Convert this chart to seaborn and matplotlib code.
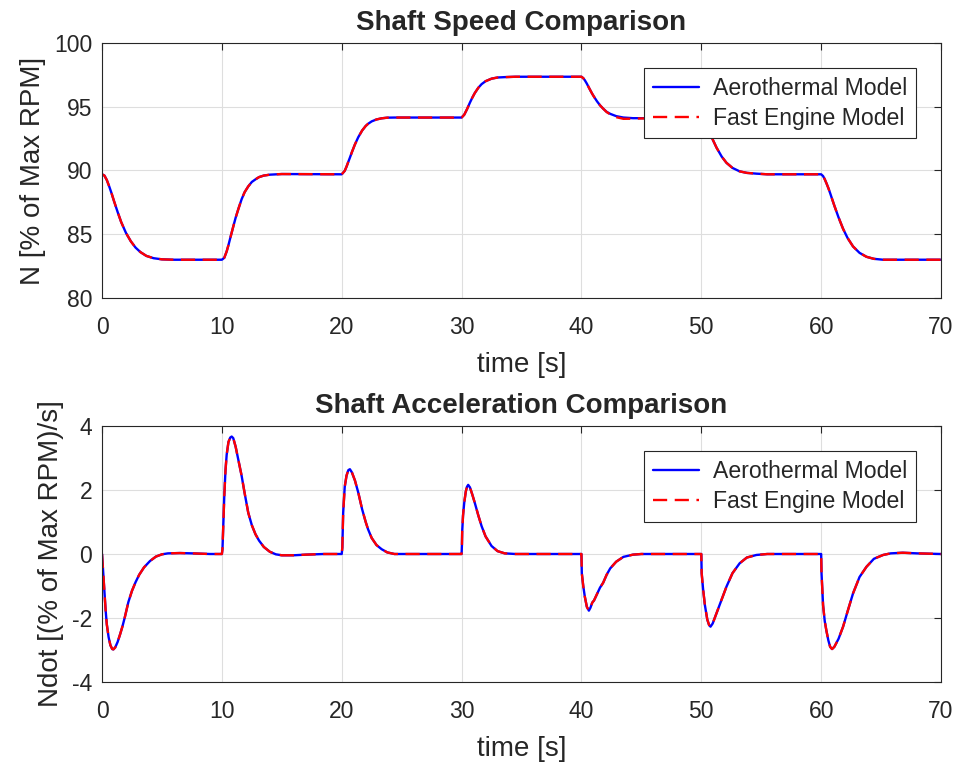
import matplotlib
matplotlib.use("Agg")
import matplotlib.pyplot as plt
import seaborn as sns

# ---------------- data ----------------
t_speed = [0, 0.2, 0.4, 0.6, 0.8, 1.0, 1.3, 1.6, 2.0, 2.4, 2.8, 3.2, 3.7, 4.3, 5.0, 6.0, 10.0,
           10.2, 10.4, 10.55, 10.7, 10.95, 11.15, 11.4, 11.65, 11.9, 12.2, 12.5, 12.8, 13.1, 13.5, 14.0, 15.0, 20.0,
           20.25, 20.4, 20.55, 20.68, 20.85, 21.1, 21.38, 21.7, 22.0, 22.2, 22.5, 22.9, 23.33, 23.8, 24.4, 30.0,
           30.22, 30.45, 30.7, 30.9, 31.1, 31.4, 31.67, 32.0, 32.5, 33.0, 33.6, 34.5, 40.0,
           40.15, 40.28, 40.45, 40.62, 40.75, 40.9, 41.05, 41.3, 41.55, 41.81, 42.1, 42.4, 42.9, 43.5, 44.3, 45.0, 50.0,
           50.15, 50.3, 50.5, 50.65, 50.77, 50.95, 51.27, 51.7, 52.1, 52.6, 53.2, 53.8, 54.6, 55.5, 60.0,
           60.16, 60.3, 60.44, 60.6, 60.75, 60.91, 61.1, 61.45, 61.83, 62.2, 62.66, 63.2, 63.78, 64.4, 65.17, 70.0]

aero_speed = [89.7, 89.6, 89.25, 88.75, 88.2, 87.6, 86.75, 85.95, 85.1, 84.45, 83.95, 83.6, 83.3, 83.12, 83.03, 83.0, 83.0,
              83.15, 83.65, 84.15, 84.7, 85.6, 86.3, 87.05, 87.75, 88.3, 88.75, 89.1, 89.3, 89.48, 89.6, 89.67, 89.72, 89.7,
              89.97, 90.3, 90.68, 91.0, 91.44, 92.04, 92.61, 93.13, 93.49, 93.66, 93.85, 94.0, 94.09, 94.14, 94.15, 94.15,
              94.37, 94.8, 95.33, 95.72, 96.07, 96.49, 96.77, 97.0, 97.2, 97.29, 97.32, 97.35, 97.35,
              97.24, 97.08, 96.81, 96.5, 96.27, 96.01, 95.78, 95.42, 95.11, 94.85, 94.6, 94.44, 94.26, 94.15, 94.1, 94.1, 94.1,
              93.99, 93.79, 93.42, 93.1, 92.83, 92.43, 91.79, 91.09, 90.6, 90.2, 89.93, 89.81, 89.75, 89.7, 89.7,
              89.56, 89.31, 89.0, 88.62, 88.22, 87.77, 87.24, 86.32, 85.42, 84.71, 84.04, 83.54, 83.23, 83.07, 83.0, 83.0]

fast_speed = [89.7, 89.6, 89.25, 88.75, 88.2, 87.6, 86.75, 85.95, 85.1, 84.45, 83.95, 83.6, 83.3, 83.12, 83.03, 83.0, 83.0,
              83.15, 83.65, 84.15, 84.7, 85.6, 86.3, 87.05, 87.75, 88.3, 88.75, 89.1, 89.3, 89.48, 89.6, 89.67, 89.72, 89.7,
              89.97, 90.3, 90.68, 91.0, 91.44, 92.04, 92.61, 93.13, 93.49, 93.66, 93.85, 94.0, 94.09, 94.14, 94.15, 94.15,
              94.37, 94.8, 95.33, 95.72, 96.07, 96.49, 96.77, 97.0, 97.2, 97.29, 97.32, 97.35, 97.35,
              97.24, 97.08, 96.81, 96.5, 96.27, 96.01, 95.78, 95.42, 95.11, 94.85, 94.58, 94.40, 94.18, 94.05, 94.06, 94.08, 94.1,
              93.99, 93.79, 93.42, 93.1, 92.83, 92.43, 91.79, 91.09, 90.6, 90.2, 89.93, 89.81, 89.75, 89.7, 89.7,
              89.56, 89.31, 89.0, 88.62, 88.22, 87.77, 87.24, 86.32, 85.42, 84.71, 84.04, 83.54, 83.23, 83.07, 83.0, 83.0]

t_acc = [0, 0.05, 0.1, 0.2, 0.3, 0.4, 0.55, 0.7, 0.85, 0.95, 1.1, 1.3, 1.5, 1.7, 1.9, 2.2, 2.5, 2.8, 3.1, 3.5,
         4.0, 4.5, 5.0, 5.5, 6.5, 7.5, 9.0, 10.0,
         10.05, 10.12, 10.2, 10.3, 10.4, 10.55, 10.7, 10.82, 10.95, 11.15, 11.4, 11.65, 11.9, 12.2, 12.5, 12.8,
         13.1, 13.5, 14.0, 14.5, 15.0, 16.0, 17.0, 18.5, 20.0,
         20.05, 20.12, 20.25, 20.4, 20.55, 20.68, 20.85, 21.1, 21.38, 21.7, 22.0, 22.2, 22.5, 22.9, 23.33, 23.8, 24.4, 30.0,
         30.03, 30.05, 30.12, 30.22, 30.35, 30.45, 30.55, 30.7, 30.9, 31.1, 31.4, 31.67, 32.0, 32.5, 33.0, 33.6, 34.5, 40.0,
         40.03, 40.15, 40.28, 40.45, 40.62, 40.75, 40.9, 41.05, 41.3, 41.55, 41.81, 42.1, 42.4, 42.9, 43.5, 44.3, 45.0, 50.0,
         50.03, 50.15, 50.3, 50.5, 50.65, 50.77, 50.95, 51.27, 51.7, 52.1, 52.6, 53.2, 53.8, 54.6, 55.5, 60.0,
         60.03, 60.16, 60.3, 60.44, 60.6, 60.75, 60.91, 61.1, 61.45, 61.83, 62.2, 62.66, 63.2, 63.78, 64.4, 65.17,
         65.8, 66.8, 68.0, 70.0]

aero_acc = [0, -0.3, -0.6, -1.2, -1.75, -2.2, -2.6, -2.85, -2.97, -2.98, -2.92, -2.75, -2.52, -2.27, -1.98, -1.5,
            -1.15, -0.88, -0.65, -0.42, -0.22, -0.08, -0.01, 0.02, 0.03, 0.02, 0.0, 0.0,
            0.15, 0.9, 1.8, 2.6, 3.1, 3.5, 3.64, 3.67, 3.62, 3.35, 2.9, 2.44, 1.9, 1.29, 0.9, 0.62,
            0.42, 0.22, 0.07, -0.01, -0.04, -0.04, -0.02, 0.0, 0.0,
            0.2, 1.29, 2.1, 2.45, 2.62, 2.65, 2.55, 2.3, 1.92, 1.4, 1.0, 0.77, 0.5, 0.28, 0.15, 0.05, 0.0, 0.0,
            0.3, 0.7, 1.2, 1.6, 1.95, 2.1, 2.16, 2.08, 1.85, 1.6, 1.2, 0.87, 0.55, 0.25, 0.09, 0.02, 0.0, 0.0,
            -0.6, -1.0, -1.33, -1.65, -1.77, -1.68, -1.52, -1.45, -1.25, -1.05, -0.9, -0.65, -0.45, -0.24, -0.09, -0.02, 0.0, 0.0,
            -0.6, -1.1, -1.6, -2.05, -2.22, -2.27, -2.17, -1.85, -1.42, -1.02, -0.6, -0.29, -0.11, -0.03, 0.0, 0.0,
            -0.6, -1.6, -2.1, -2.4, -2.7, -2.9, -2.97, -2.9, -2.65, -2.27, -1.8, -1.23, -0.72, -0.4, -0.15, -0.03,
            0.02, 0.04, 0.02, 0.0]

fast_acc = [0, -0.3, -0.6, -1.2, -1.75, -2.2, -2.6, -2.85, -2.97, -2.98, -2.92, -2.75, -2.52, -2.27, -1.98, -1.5,
            -1.15, -0.88, -0.65, -0.42, -0.22, -0.08, -0.01, 0.02, 0.03, 0.02, 0.0, 0.0,
            0.15, 0.9, 1.8, 2.6, 3.1, 3.5, 3.64, 3.67, 3.62, 3.35, 2.9, 2.44, 1.9, 1.29, 0.9, 0.62,
            0.42, 0.22, 0.07, -0.01, -0.04, -0.04, -0.02, 0.0, 0.0,
            0.2, 1.29, 2.1, 2.45, 2.62, 2.65, 2.55, 2.3, 1.92, 1.4, 1.0, 0.77, 0.5, 0.28, 0.15, 0.05, 0.0, 0.0,
            0.3, 0.7, 1.2, 1.6, 1.95, 2.1, 2.16, 2.08, 1.85, 1.6, 1.2, 0.87, 0.55, 0.25, 0.09, 0.02, 0.0, 0.0,
            -0.6, -1.0, -1.33, -1.65, -1.77, -1.68, -1.52, -1.45, -1.25, -1.05, -0.9, -0.65, -0.45, -0.24, -0.09, -0.02, 0.0, 0.0,
            -0.6, -1.1, -1.6, -2.05, -2.22, -2.27, -2.17, -1.85, -1.42, -1.02, -0.6, -0.29, -0.11, -0.03, 0.0, 0.0,
            -0.6, -1.6, -2.1, -2.4, -2.7, -2.9, -2.97, -2.9, -2.65, -2.27, -1.8, -1.23, -0.72, -0.4, -0.15, -0.03,
            0.02, 0.04, 0.02, 0.0]

series_names = ["Aerothermal Model", "Fast Engine Model"]
titles = ["Shaft Speed Comparison", "Shaft Acceleration Comparison"]
ylabels = ["N [% of Max RPM]", "Ndot [(% of Max RPM)/s]"]
xlabel = "time [s]"
x_ticks = [0, 10, 20, 30, 40, 50, 60, 70]
y_ticks_top = [80, 85, 90, 95, 100]
y_ticks_bot = [-4, -2, 0, 2, 4]

# ---------------- style ----------------
sns.set_style("white")
plt.rcParams['font.family'] = ['Liberation Sans', 'DejaVu Sans']
plt.rcParams['axes.unicode_minus'] = False

fig = plt.figure(figsize=(9.57, 7.67), dpi=100)
ax1 = fig.add_axes([0.1066, 0.6115, 0.8767, 0.3325])
ax2 = fig.add_axes([0.1066, 0.1108, 0.8767, 0.3338])

panels = [
    (ax1, t_speed, aero_speed, fast_speed, titles[0], ylabels[0], y_ticks_top),
    (ax2, t_acc, aero_acc, fast_acc, titles[1], ylabels[1], y_ticks_bot),
]

dark = '#262626'
for ax, t, a, f, title, ylab, yt in panels:
    sns.lineplot(x=t, y=a, ax=ax, color='#0000FF', linewidth=1.7, label=series_names[0],
                 estimator=None, sort=False)
    sns.lineplot(x=t, y=f, ax=ax, color='#FF0000', linewidth=1.7, linestyle=(0, (6, 3.2)),
                 label=series_names[1], estimator=None, sort=False)
    ax.set_xlim(x_ticks[0], x_ticks[-1])
    ax.set_ylim(yt[0], yt[-1])
    ax.set_xticks(x_ticks)
    ax.set_yticks(yt)
    ax.grid(True, color='#dedede', linewidth=0.8)
    ax.set_axisbelow(True)
    ax.tick_params(direction='in', top=True, right=True, length=5, width=0.8,
                   labelsize=16.5, colors=dark, labelcolor=dark)
    ax.tick_params(axis='x', pad=13)
    ax.tick_params(axis='y', pad=7)
    for sp in ax.spines.values():
        sp.set_color(dark)
        sp.set_linewidth(0.8)
    ax.set_title(title, fontsize=20, fontweight='bold', pad=9)
    ax.set_xlabel(xlabel, fontsize=20, color=dark, labelpad=9)
    ax.set_ylabel(ylab, fontsize=20, color=dark, labelpad=6)
    leg = ax.legend(loc='upper right', bbox_to_anchor=(0.970, 0.902), fontsize=16.6,
                    frameon=True, fancybox=False, framealpha=1, edgecolor=dark,
                    handlelength=2.0, handletextpad=0.6, borderpad=0.38, labelspacing=0.3,
                    borderaxespad=0)
    leg.get_frame().set_linewidth(0.8)

fig.savefig("out.png", dpi=100)
